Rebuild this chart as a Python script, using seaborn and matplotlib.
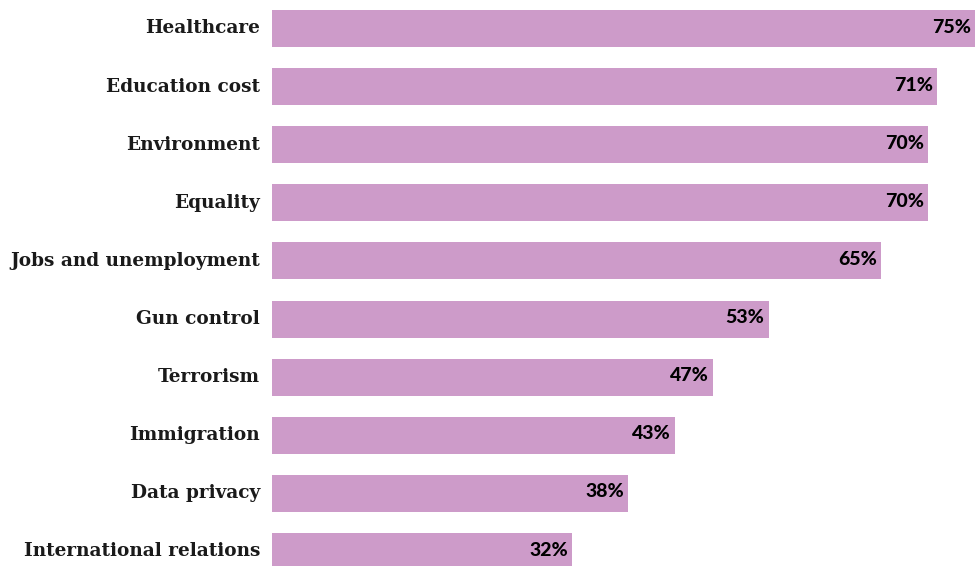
import matplotlib
matplotlib.use("Agg")
import matplotlib.pyplot as plt
import seaborn as sns
import pandas as pd

categories = ["Healthcare", "Education cost", "Environment", "Equality",
              "Jobs and unemployment", "Gun control", "Terrorism",
              "Immigration", "Data privacy", "International relations"]
values = [75, 71, 70, 70, 65, 53, 47, 43, 38, 32]

df = pd.DataFrame({"category": categories, "value": values})

sns.set_style("white")
plt.rcParams["font.family"] = ["DejaVu Serif"]

fig = plt.figure(figsize=(9.79, 5.66), dpi=100)
ax = fig.add_axes([272 / 979, 0, 707 / 979, 1])

sns.barplot(data=df, x="value", y="category", orient="h", color="#cd9bc9",
            saturation=1, width=0.637, linewidth=0, ax=ax)

ax.set_xlim(0, 75.43)
ax.set_ylim(9.25, -0.49)
ax.set_xlabel("")
ax.set_ylabel("")
ax.set_xticks([])
for s in ax.spines.values():
    s.set_visible(False)
ax.tick_params(axis="y", length=0, pad=8.6)
for lab in ax.get_yticklabels():
    lab.set_fontsize(13.3)
    lab.set_fontweight("bold")
    lab.set_color("#1a1a1a")
    lab.set_verticalalignment("center")

for i, v in enumerate(values):
    ax.annotate(f"{v}%", xy=(v, i), xytext=(-3, 1), textcoords="offset points",
                ha="right", va="center", fontsize=14, fontweight="black",
                family="Lato", color="black")

fig.savefig("out.png", dpi=100)
